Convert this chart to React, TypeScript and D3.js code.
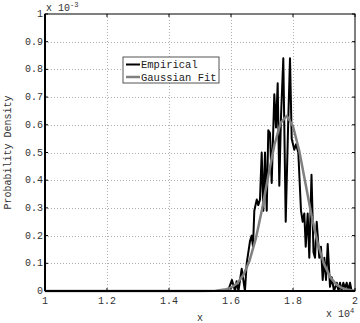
import React, { useRef, useEffect } from "react";
import * as d3 from "d3";

// x in units of 1e4, density in units of 1e-3
const empX = [
  1.0, 1.56, 1.59, 1.603, 1.613, 1.618, 1.624, 1.6345, 1.645, 1.6506, 1.6613,
  1.6668, 1.671, 1.6752, 1.683, 1.688, 1.6935, 1.699, 1.7042, 1.7097, 1.7152,
  1.7203, 1.7258, 1.7313, 1.7397, 1.7452, 1.7506, 1.7558, 1.7613, 1.7687,
  1.7765, 1.7848, 1.7903, 1.7958, 1.8042, 1.8097, 1.8171, 1.8258, 1.8313,
  1.8365, 1.841, 1.8474, 1.8526, 1.8597, 1.8661, 1.871, 1.8765, 1.8848,
  1.8903, 1.8958, 1.901, 1.9065, 1.912, 1.9194, 1.9248, 1.9323, 1.941,
  1.9468, 1.9516, 1.957, 1.9623, 1.9677, 1.9732, 1.978, 1.9839, 1.989, 2.0,
];
const empY = [
  0, 0, 0, 0.04, 0, 0.035, 0, 0.08, 0, 0.1, 0.18,
  0.2, 0.16, 0.29, 0.33, 0.31, 0.33, 0.5, 0.29, 0.5, 0.29,
  0.58, 0.57, 0.39, 0.71, 0.59, 0.75, 0.38, 0.63, 0.84,
  0.25, 0.62, 0.84, 0.55, 0.51, 0.53, 0.5, 0.29, 0.25,
  0.28, 0.16, 0.28, 0.12, 0.42, 0.14, 0.12, 0.25, 0.12,
  0.16, 0.04, 0.12, 0.04, 0.17, 0.015, 0.05, 0, 0.03,
  0, 0.03, 0, 0.03, 0.01, 0.03, 0, 0.03, 0, 0,
];

const fitX = [
  1.0, 1.4, 1.5, 1.55, 1.58, 1.6, 1.62, 1.64, 1.66, 1.68, 1.7, 1.72, 1.74,
  1.76, 1.78, 1.8, 1.82, 1.84, 1.86, 1.88, 1.9, 1.92, 1.94, 1.96, 1.98, 2.0,
];
const fitY = [
  0, 0, 0, 0.001, 0.005, 0.012, 0.028, 0.058, 0.11, 0.189, 0.294, 0.414,
  0.527, 0.607, 0.632, 0.595, 0.507, 0.39, 0.272, 0.171, 0.098, 0.05, 0.023,
  0.01, 0.004, 0.001,
];

const xTicks = [1, 1.2, 1.4, 1.6, 1.8, 2];
const yTicks = [0, 0.1, 0.2, 0.3, 0.4, 0.5, 0.6, 0.7, 0.8, 0.9, 1];
const legendLabels = ["Empirical", "Gaussian Fit"];
const seriesColors = ["#000000", "#808080"];

const W = 360;
const H = 323;
const mono = "'Liberation Mono', 'DejaVu Sans Mono', monospace";

export default function App() {
  const svgRef = useRef<SVGSVGElement>(null);

  useEffect(() => {
    const svg = d3.select(svgRef.current);
    svg.selectAll("*").remove();

    const margin = { top: 14, right: 5, bottom: 32, left: 45 };
    const x = d3.scaleLinear().domain([1, 2]).range([margin.left, W - margin.right]);
    const y = d3.scaleLinear().domain([0, 1]).range([H - margin.bottom, margin.top]);

    svg.append("rect").attr("width", W).attr("height", H).attr("fill", "#fff");

    // dotted grid
    const grid = svg.append("g").attr("stroke", "#b0b0b0").attr("stroke-width", 1)
      .attr("stroke-dasharray", "1,2");
    grid.selectAll(".gx").data(xTicks.slice(1, -1)).enter().append("line")
      .attr("x1", (d) => Math.round(x(d)) + 0.5).attr("x2", (d) => Math.round(x(d)) + 0.5)
      .attr("y1", y(0)).attr("y2", y(1));
    grid.selectAll(".gy").data(yTicks.slice(1, -1)).enter().append("line")
      .attr("y1", (d) => Math.round(y(d)) + 0.5).attr("y2", (d) => Math.round(y(d)) + 0.5)
      .attr("x1", x(1)).attr("x2", x(2));

    // series
    const line = (xs: number[], ys: number[]) =>
      d3.line<number>().x((d, i) => x(xs[i])).y((d) => y(d))(ys);

    svg.append("path").attr("d", line(empX, empY)).attr("fill", "none")
      .attr("stroke", seriesColors[0]).attr("stroke-width", 2).attr("stroke-linejoin", "round");
    svg.append("path").attr("d", line(fitX, fitY)).attr("fill", "none")
      .attr("stroke", seriesColors[1]).attr("stroke-width", 2.5).attr("stroke-linejoin", "round");

    // axes box
    const box = svg.append("g").attr("stroke", "#000").attr("fill", "none");
    box.append("rect").attr("x", x(1)).attr("y", y(1))
      .attr("width", x(2) - x(1)).attr("height", y(0) - y(1)).attr("stroke-width", 1);
    box.append("line").attr("x1", x(1)).attr("x2", x(1)).attr("y1", y(0)).attr("y2", y(1))
      .attr("stroke-width", 2);
    box.append("line").attr("x1", x(1)).attr("x2", x(2)).attr("y1", y(0)).attr("y2", y(0))
      .attr("stroke-width", 2);

    // tick marks
    const tk = 3;
    xTicks.forEach((t) => {
      box.append("line").attr("x1", x(t)).attr("x2", x(t)).attr("y1", y(0)).attr("y2", y(0) - tk);
      box.append("line").attr("x1", x(t)).attr("x2", x(t)).attr("y1", y(1)).attr("y2", y(1) + tk);
    });
    yTicks.forEach((t) => {
      box.append("line").attr("y1", y(t)).attr("y2", y(t)).attr("x1", x(1)).attr("x2", x(1) + tk);
      box.append("line").attr("y1", y(t)).attr("y2", y(t)).attr("x1", x(2)).attr("x2", x(2) - tk);
    });

    // tick labels
    const lab = svg.append("g").attr("font-family", mono).attr("font-size", 10).attr("fill", "#333");
    lab.selectAll(".xl").data(xTicks).enter().append("text")
      .attr("x", (d) => x(d)).attr("y", y(0) + 13).attr("text-anchor", "middle")
      .text((d) => d3.format("")(d));
    lab.selectAll(".yl").data(yTicks).enter().append("text")
      .attr("x", x(1) - 2).attr("y", (d) => y(d) + 3).attr("text-anchor", "end")
      .text((d) => d3.format("")(d));

    // exponent labels
    const e1 = lab.append("text").attr("x", x(1) + 1).attr("y", y(1) - 3);
    e1.append("tspan").text("x 10");
    e1.append("tspan").attr("font-size", 7).attr("dy", -4).text("-3");
    const e2 = lab.append("text").attr("x", x(2) - 29).attr("y", y(0) + 26);
    e2.append("tspan").text("x 10");
    e2.append("tspan").attr("font-size", 7).attr("dy", -4).text("4");

    // axis titles
    lab.append("text").attr("x", x(1.5)).attr("y", H - 2).attr("text-anchor", "middle").text("x");
    lab.append("text").attr("transform", `translate(11,${(y(0) + y(1)) / 2}) rotate(-90)`)
      .attr("text-anchor", "middle").text("Probability Density");

    // legend
    const lg = svg.append("g").attr("transform", "translate(123,57)");
    lg.append("rect").attr("width", 96).attr("height", 26).attr("fill", "#fff")
      .attr("stroke", "#555").attr("stroke-width", 1);
    legendLabels.forEach((name, i) => {
      const yy = 7.5 + i * 12.5;
      lg.append("line").attr("x1", 3).attr("x2", 17).attr("y1", yy).attr("y2", yy)
        .attr("stroke", seriesColors[i]).attr("stroke-width", i === 0 ? 2 : 2.5);
      lg.append("text").attr("x", 18).attr("y", yy + 3.5).attr("font-family", mono)
        .attr("font-size", 10.5).attr("fill", "#222").text(name);
    });
  }, []);

  return (
    <svg ref={svgRef} width={W} height={H}
      style={{ position: "absolute", left: 0, top: 0, display: "block" }} />
  );
}
